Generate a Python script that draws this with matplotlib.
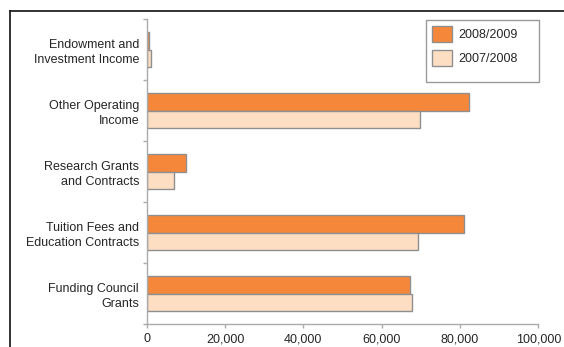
import numpy as np
import matplotlib
matplotlib.use('Agg')
import matplotlib.pyplot as plt
from matplotlib.lines import Line2D
from matplotlib.patches import Rectangle

plt.rcParams['font.family'] = ['Liberation Sans', 'DejaVu Sans']

# data (bottom to top)
categories = ['Funding Council\nGrants', 'Tuition Fees and\nEducation Contracts',
              'Research Grants\nand Contracts', 'Other Operating\nIncome',
              'Endowment and\nInvestment Income']
income_2009 = [67200, 81100, 10000, 82400, 500]
income_2008 = [67700, 69200, 6900, 69800, 1200]
series_labels = ['2008/2009', '2007/2008']
x_ticks = [0, 20000, 40000, 60000, 80000, 100000]

orange = '#f5873a'
peach = '#fddec3'
edge = '#8f8f8f'
axis_col = '#ababab'
text_col = '#262626'
W, H = 564, 347

fig = plt.figure(figsize=(W / 100, H / 100), dpi=100)
ax = fig.add_axes([146.7 / W, 23 / H, (538.3 - 146.7) / W, (328 - 23) / H])

y = np.arange(len(categories))
h = 0.287
ax.barh(y + h / 2, income_2009, height=h, color=orange, edgecolor=edge, linewidth=1,
        label=series_labels[0])
ax.barh(y - h / 2, income_2008, height=h, color=peach, edgecolor=edge, linewidth=1,
        label=series_labels[1])

ax.set_xlim(0, 100000)
ax.set_ylim(-0.5, len(categories) - 0.5)

ax.set_xticks(x_ticks)
ax.set_xticklabels([f'{v:,}' for v in x_ticks])
ax.set_yticks(y)
ax.set_yticklabels(categories, linespacing=1.35)
ax.set_yticks(np.arange(len(categories) + 1) - 0.5, minor=True)

ax.tick_params(axis='y', which='major', length=0, pad=5.5, labelsize=9.0, labelcolor=text_col)
ax.tick_params(axis='y', which='minor', length=3, width=1, color=axis_col, direction='out')
ax.tick_params(axis='x', length=3, width=1, color=axis_col, pad=3.5, labelsize=9.0,
               labelcolor=text_col)

for s in ['top', 'right']:
    ax.spines[s].set_visible(False)
for s in ['left', 'bottom']:
    ax.spines[s].set_color(axis_col)
    ax.spines[s].set_linewidth(1)

# legend: entries placed from the top-left corner, frame drawn wider like the original
leg = fig.legend(*ax.get_legend_handles_labels(), loc='upper left',
                 bbox_to_anchor=(426 / W, 1 - 20 / H), borderaxespad=0,
                 fontsize=9.0, handlelength=1.6, handleheight=1.6, handletextpad=0.5,
                 labelspacing=0.6, borderpad=0.5, frameon=False)
for t in leg.get_texts():
    t.set_color(text_col)
fig.add_artist(Rectangle((426 / W, 1 - 81.7 / H), (539.3 - 426) / W, (81.7 - 20) / H,
                         transform=fig.transFigure, facecolor='none',
                         edgecolor='#9a9a9a', linewidth=1))

# outer frame (top and left edges of the surrounding box)
fig.add_artist(Line2D([10 / W, 1.0], [1 - 11 / H, 1 - 11 / H],
                      transform=fig.transFigure, color='#222222', linewidth=1.3))
fig.add_artist(Line2D([10 / W, 10 / W], [0, 1 - 11 / H],
                      transform=fig.transFigure, color='#222222', linewidth=1.3))

fig.savefig('out.png', dpi=100)
